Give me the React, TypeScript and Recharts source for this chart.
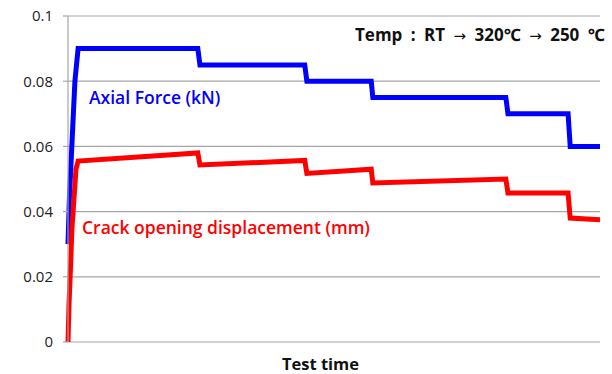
import React from 'react';
import { LineChart, Line, XAxis, YAxis, CartesianGrid } from 'recharts';

// test time (0-100, arbitrary units) and readings
const forceTime = [0, 0.28, 1.3, 1.9, 24.4, 24.8, 44.5, 44.9, 57.0, 57.3, 82.3, 82.7, 94.0, 94.4, 100];
const forceValues = [0.03, 0.045, 0.08, 0.09, 0.09, 0.085, 0.085, 0.08, 0.08, 0.075, 0.075, 0.07, 0.07, 0.06, 0.06];

const codTime = [0, 0.2, 0.4, 0.75, 1.5, 1.9, 24.4, 24.8, 44.5, 44.9, 57.0, 57.3, 82.3, 82.7, 94.0, 94.4, 100];
const codValues = [0, 0.012, 0.02, 0.035, 0.053, 0.0555, 0.058, 0.0543, 0.0557, 0.0517, 0.053, 0.0488, 0.05, 0.0457, 0.0457, 0.038, 0.0375];

const yTicks = [0, 0.02, 0.04, 0.06, 0.08, 0.1];

const forceData = forceTime.map((t, i) => ({ t, v: forceValues[i] }));
const codData = codTime.map((t, i) => ({ t, v: codValues[i] }));

const font = '"Open Sans", "Noto Sans", sans-serif';
const arrow: React.CSSProperties = { fontFamily: '"DejaVu Sans", sans-serif', fontWeight: 400, fontSize: 15 };

const App: React.FC = () => {
  return (
    <div style={{ position: 'absolute', left: 0, top: 0, width: 612, height: 374, background: '#fff', fontFamily: font }}>
      <LineChart width={612} height={374} margin={{ top: 16, right: 12, left: 0, bottom: 32 }}>
        <CartesianGrid vertical={false} stroke="#a6a6a6" strokeWidth={1.2} />
        <XAxis type="number" dataKey="t" domain={[0, 100]} hide />
        <YAxis
          type="number"
          domain={[0, 0.1]}
          ticks={yTicks}
          width={68}
          tickSize={5}
          tickMargin={10}
          axisLine={{ stroke: '#a6a6a6', strokeWidth: 1.2 }}
          tickLine={{ stroke: '#a6a6a6', strokeWidth: 1.2 }}
          tick={{ fill: '#222', fontSize: 15, fontFamily: font }}
          tickFormatter={(v: number) => String(Number(v.toFixed(2)))}
        />
        <Line data={forceData} dataKey="v" type="linear" stroke="#0000ff" strokeWidth={5} dot={false} isAnimationActive={false} />
        <Line data={codData} dataKey="v" type="linear" stroke="#ff0000" strokeWidth={5} dot={false} isAnimationActive={false} />
      </LineChart>
      <div style={{ position: 'absolute', left: 89, top: 85, color: '#0000ff', fontSize: 17.5, fontWeight: 600, whiteSpace: 'nowrap' }}>
        Axial Force (kN)
      </div>
      <div style={{ position: 'absolute', left: 82, top: 215, color: '#ff0000', fontSize: 17.5, fontWeight: 600, whiteSpace: 'nowrap' }}>
        Crack opening displacement (mm)
      </div>
      <div style={{ position: 'absolute', left: 355, top: 23, color: '#111', fontSize: 17, fontWeight: 700, whiteSpace: 'nowrap', wordSpacing: 4 }}>
        Temp : RT <span style={arrow}>→</span> 320℃ <span style={arrow}>→</span> 250 ℃
      </div>
      <div style={{ position: 'absolute', left: 0, width: 641, top: 352, textAlign: 'center', color: '#111', fontSize: 16.5, fontWeight: 700 }}>
        Test time
      </div>
    </div>
  );
};

export default App;
